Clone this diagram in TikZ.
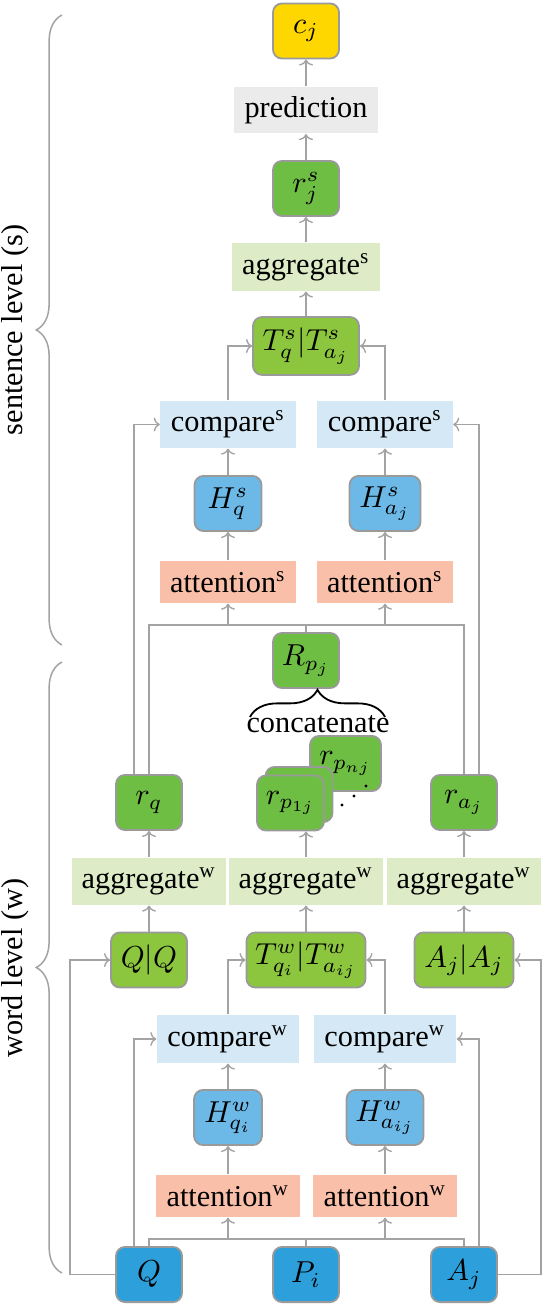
\documentclass[tikz,border=0pt]{standalone}
\usepackage{fontspec}
\setmainfont{Liberation Serif}
\usepackage{tikz}
\usetikzlibrary{arrows.meta,decorations.pathreplacing,calc}
\definecolor{outyellow}{HTML}{FFD700}
\definecolor{predgray}{HTML}{EBEBEB}
\definecolor{vecgreen}{HTML}{6EBE44}
\definecolor{matchgreen}{HTML}{8CC63E}
\definecolor{agggreen}{HTML}{DDEBC7}
\definecolor{cmpblue}{HTML}{D4E8F6}
\definecolor{attblue}{HTML}{6CB8E6}
\definecolor{attsalmon}{HTML}{F9BFA8}
\definecolor{inblue}{HTML}{2D9FDA}
\definecolor{boxgray}{HTML}{9A9A9A}
\definecolor{linegray}{HTML}{A3A3A3}
\tikzset{
  figbox/.style={draw=boxgray, line width=0.6pt, rounded corners=3pt, align=center,
    inner sep=1pt, minimum width=21.8pt, minimum height=18.2pt},
  figvec/.style={figbox, fill=vecgreen},
  figmatch/.style={figbox, fill=matchgreen},
  figatt/.style={figbox, fill=attblue},
  figin/.style={figbox, fill=inblue},
  figop/.style={inner sep=1pt, align=center, minimum height=15.5pt},
  figagg/.style={figop, fill=agggreen},
  figcmp/.style={figop, fill=cmpblue},
  figattn/.style={figop, fill=attsalmon, minimum height=13.9pt},
  figarrow/.style={-{Computer Modern Rightarrow[length=2pt,width=4.6pt]}, draw=linegray, line width=0.45pt},
  figline/.style={draw=linegray, line width=0.45pt},
  figbrace/.style={decorate, decoration={brace, amplitude=8.5pt}, draw=linegray, line width=0.5pt},
  figlabel/.style={inner sep=0pt, align=center},
}

\begin{document}
\begin{tikzpicture}[x=0.33pt, y=-0.33pt]
  \useasboundingbox (0,0) rectangle (544,1304);
  % sentence level
  \node[figbox, fill=outyellow] (cj) at (306,31) {$c_j$};
  \node[figop, fill=predgray, minimum width=47.2pt] (pred) at (306,110) {prediction};
  \node[figvec] (rs) at (306,188.5) {$r^s_j$};
  \node[figagg, minimum width=48.8pt, minimum height=15.8pt] (aggs) at (306,267) {aggregate\textsuperscript{s}};
  \node[figmatch, minimum width=35pt, minimum height=19.1pt] (Ts) at (306,346) {$T^s_q|T^s_{a_j}$};
  \node[figcmp, minimum width=44.6pt] (cmpsq) at (228,424.5) {compare\textsuperscript{s}};
  \node[figcmp, minimum width=44.6pt] (cmpsa) at (385,424.5) {compare\textsuperscript{s}};
  \node[figatt, minimum width=22.1pt] (Hsq) at (228,503.5) {$H^s_q$};
  \node[figatt, minimum width=23.4pt] (Hsa) at (385,503.5) {$H^s_{a_j}$};
  \node[figattn, minimum width=45.2pt] (attsq) at (228,582) {attention\textsuperscript{s}};
  \node[figattn, minimum width=45.2pt] (attsa) at (385,582) {attention\textsuperscript{s}};
  \node[figvec] (Rp) at (306,660.5) {$R_{p_j}$};
  \coordinate (busS) at (306,625);
  % word level
  \node[figvec] (rq) at (149,802.5) {$r_q$};
  \node[figvec] (ra) at (464,802.5) {$r_{a_j}$};
  \node[figvec, minimum width=23.4pt] (rpn) at (345.5,763.5) {$r_{p_{nj}}$};
  \node[figvec, minimum width=22.1pt] (rpm) at (299,794.5) {};
  \node[figvec, minimum width=22.1pt] (rp1) at (290.5,803) {$r_{p_{1j}}$};
  \foreach \dx/\dy in {366/786,354/796,342/805} \fill (\dx,\dy) circle (0.55pt);
  \draw[decorate, decoration={brace, amplitude=9pt}, line width=0.6pt] (250,717) -- (385,717);
  \node[figlabel, anchor=base] (concat) at (318,732) {concatenate};
  \node[figagg, minimum width=50.8pt] (aggwq) at (149,881.5) {aggregate\textsuperscript{w}};
  \node[figagg, minimum width=50.8pt] (aggwp) at (306,881.5) {aggregate\textsuperscript{w}};
  \node[figagg, minimum width=50.8pt] (aggwa) at (464,881.5) {aggregate\textsuperscript{w}};
  \node[figmatch, minimum width=25.1pt] (QQ) at (149,960) {$Q|Q$};
  \node[figmatch, minimum width=39.3pt] (Tw) at (306,960) {$T^w_{q_i}|T^w_{a_{ij}}$};
  \node[figmatch, minimum width=32.7pt] (AA) at (464,960) {$A_j|A_j$};
  \node[figcmp, minimum width=46.9pt, minimum height=15.8pt] (cmpwq) at (228,1039) {compare\textsuperscript{w}};
  \node[figcmp, minimum width=46.9pt, minimum height=15.8pt] (cmpwa) at (385,1039) {compare\textsuperscript{w}};
  \node[figatt, minimum width=22.4pt] (Hwq) at (228,1117.5) {$H^w_{q_i}$};
  \node[figatt, minimum width=25.4pt] (Hwa) at (385,1117.5) {$H^w_{a_{ij}}$};
  \node[figattn, minimum width=47.2pt] (attwq) at (228,1196) {attention\textsuperscript{w}};
  \node[figattn, minimum width=47.2pt] (attwa) at (385,1196) {attention\textsuperscript{w}};
  \node[figin] (Q) at (149,1274.5) {$Q$};
  \node[figin] (P) at (306,1274.5) {$P_i$};
  \node[figin] (A) at (464,1274.5) {$A_j$};
  \coordinate (busW) at (306,1239);
  \coordinate (qbend) at (70,1274.5);
  \coordinate (abend) at (541,1274.5);
  % straight arrows
  \foreach \a/\b in {pred/cj, rs/pred, aggs/rs, Ts/aggs, Hsq/cmpsq, Hsa/cmpsa, attsq/Hsq, attsa/Hsa,
    aggwq/rq, aggwa/ra, QQ/aggwq, Tw/aggwp, AA/aggwa, Hwq/cmpwq, Hwa/cmpwa, attwq/Hwq, attwa/Hwa}
    \draw[figarrow] (\a.north) -- (\b.south);
  \draw[figarrow] (aggwp.north) -- (aggwp.north |- rp1.south);
  % compare into match
  \draw[figarrow] (cmpsq.north) |- (Ts.west);
  \draw[figarrow] (cmpsa.north) |- (Ts.east);
  \draw[figarrow] (cmpwq.north) |- (Tw.west);
  \draw[figarrow] (cmpwa.north) |- (Tw.east);
  % sentence bus
  \draw[figline] (rq.north) |- (busS) -| (ra.north);
  \draw[figline] (Rp.north) -- (busS);
  \draw[figarrow] (busS -| attsq.south) -- (attsq.south);
  \draw[figarrow] (busS -| attsa.south) -- (attsa.south);
  \draw[figarrow] ([xshift=-5pt]rq.north) |- (cmpsq.west);
  \draw[figarrow] ([xshift=5pt]ra.north) |- (cmpsa.east);
  % word bus
  \draw[figline] (Q.north) |- (busW) -| (A.north);
  \draw[figline] (P.north) -- (busW);
  \draw[figarrow] (busW -| attwq.south) -- (attwq.south);
  \draw[figarrow] (busW -| attwa.south) -- (attwa.south);
  \draw[figarrow] ([xshift=-5pt]Q.north) |- (cmpwq.west);
  \draw[figarrow] ([xshift=5pt]A.north) |- (cmpwa.east);
  \draw[figarrow] (Q.west) -- (qbend) |- (QQ.west);
  \draw[figarrow] (A.east) -- (abend) |- (AA.east);
  % levels
  \draw[figbrace] (62,645) -- (62,15);
  \draw[figbrace] (62,1273) -- (62,662);
  \node[figlabel, rotate=90] (lvls) at (15,330) {sentence level (s)};
  \node[figlabel, rotate=90] (lvlw) at (15,968) {word level (w)};
\end{tikzpicture}
\end{document}
